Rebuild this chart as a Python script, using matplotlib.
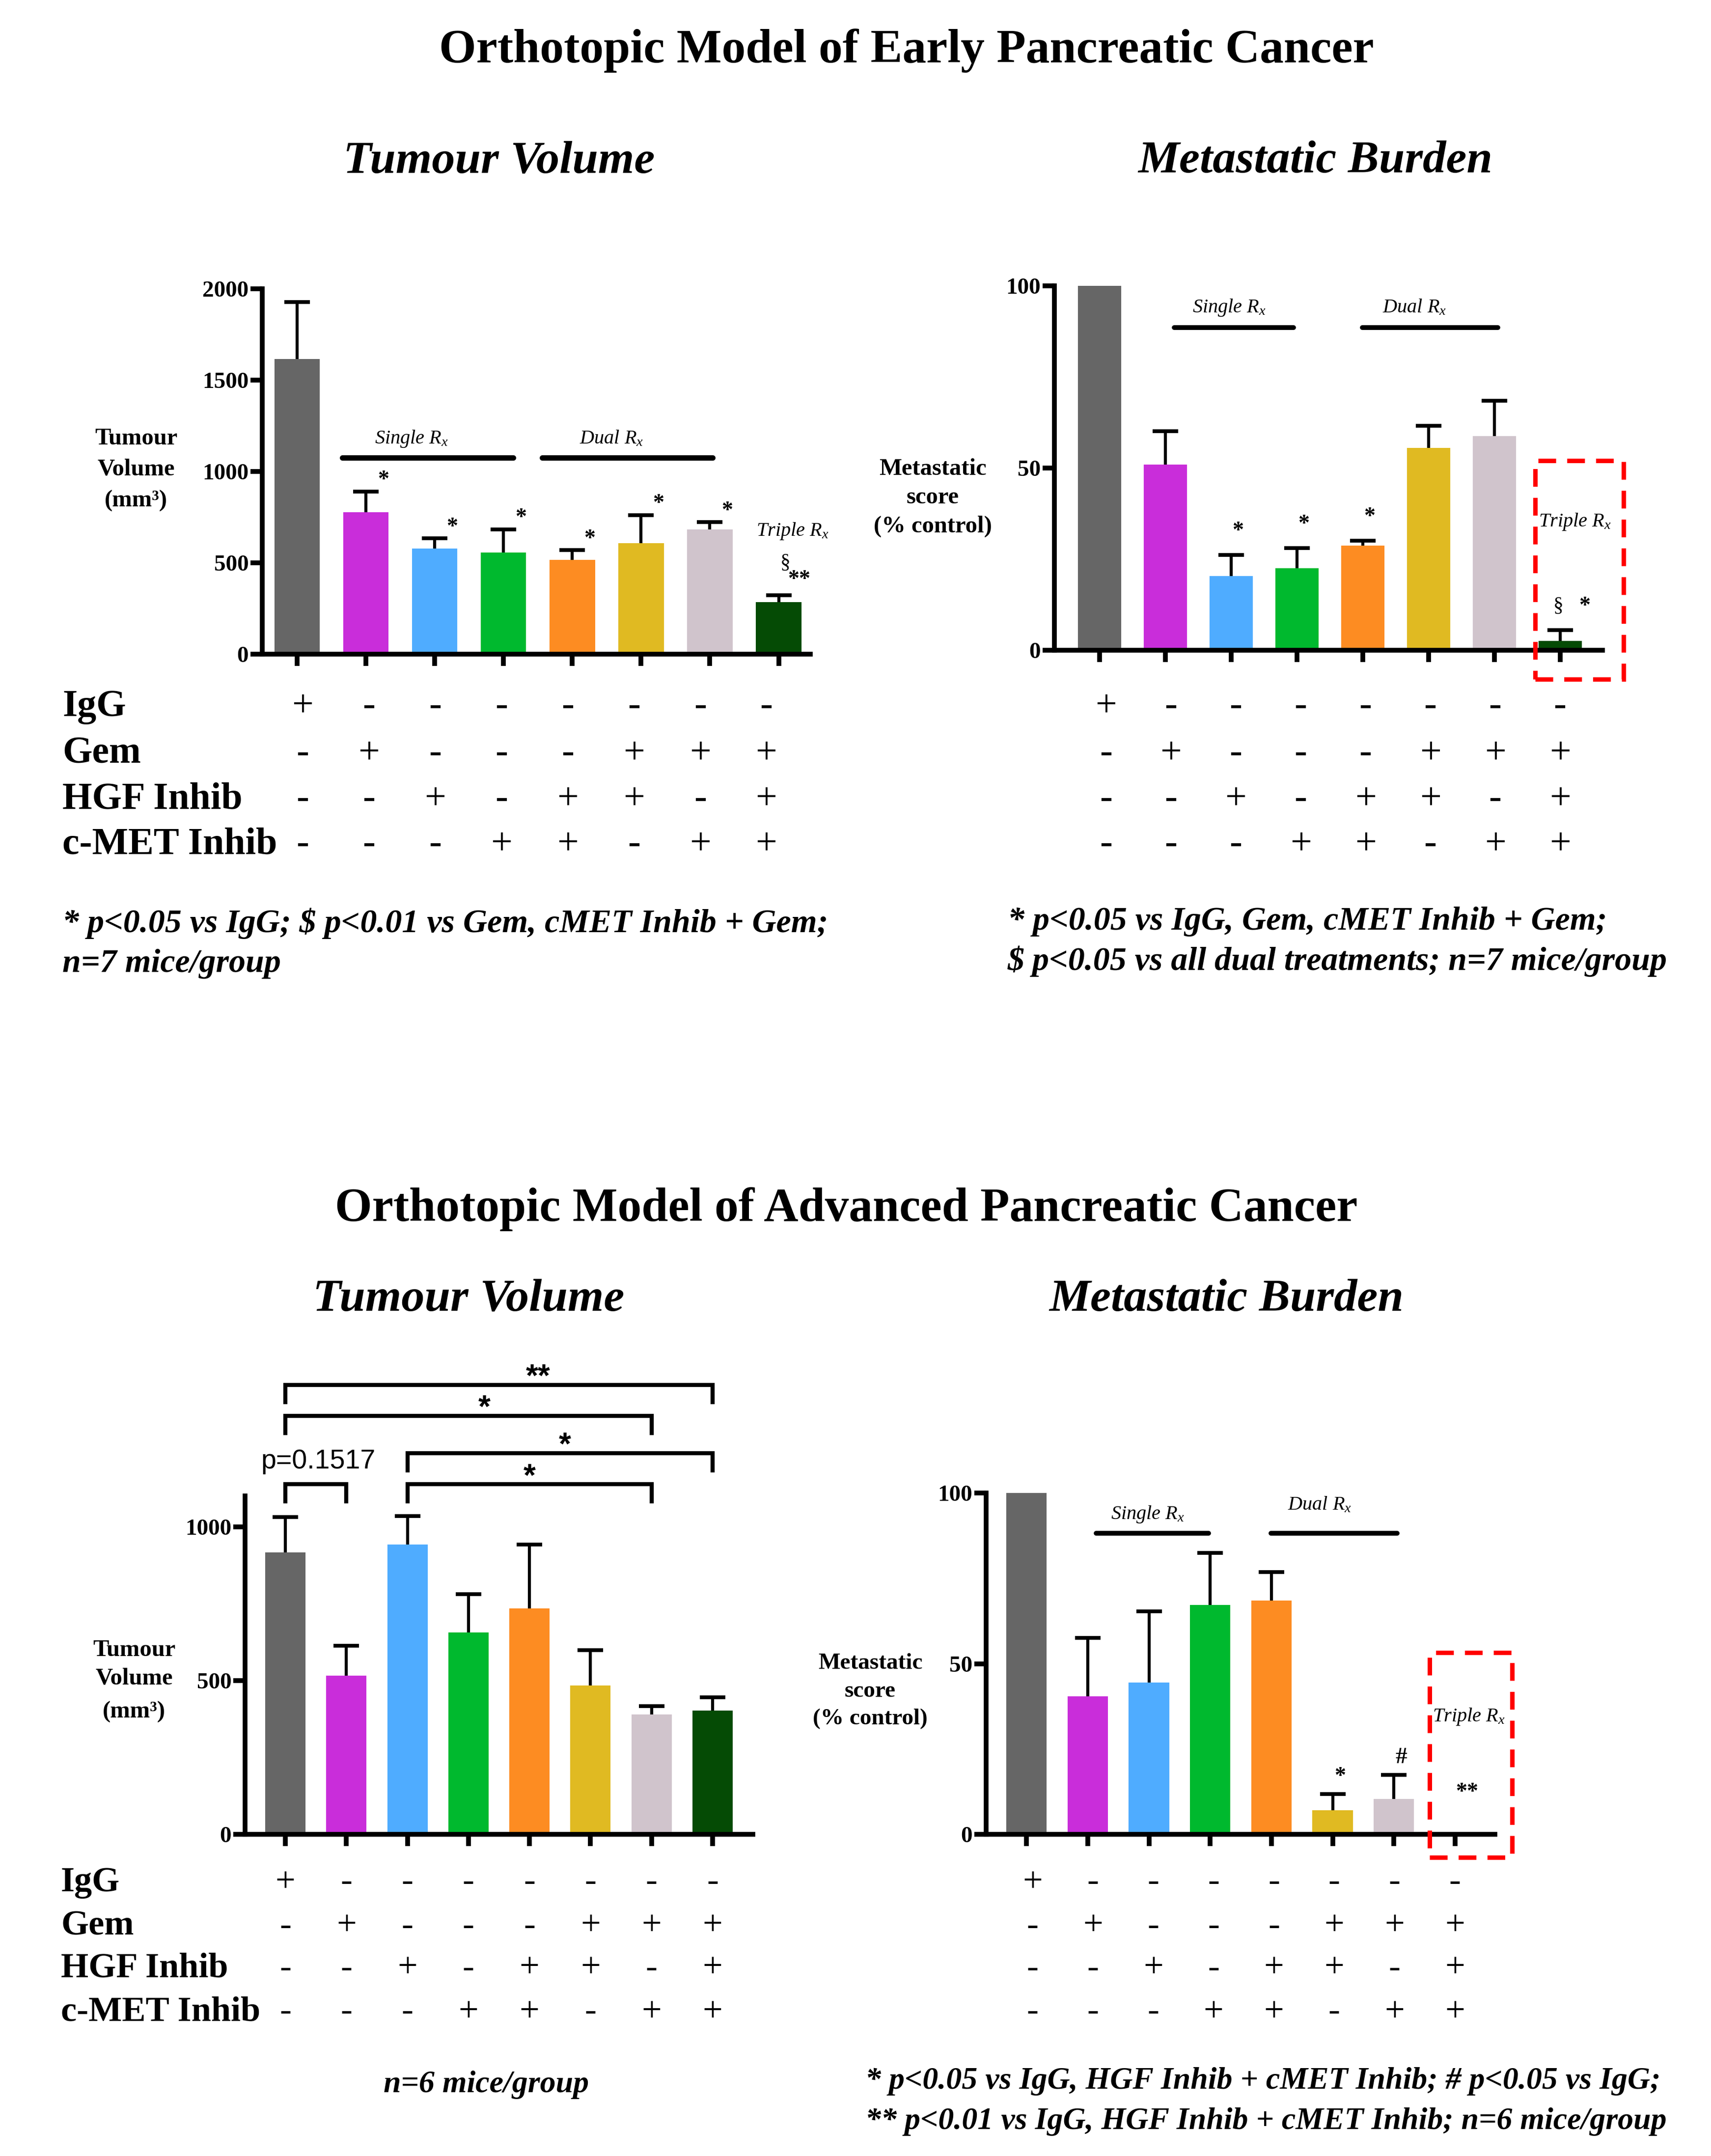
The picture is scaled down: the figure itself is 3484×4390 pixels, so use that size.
import matplotlib
matplotlib.use("Agg")
import matplotlib.pyplot as plt
from matplotlib import transforms
from matplotlib.patches import Rectangle
import numpy as np

plt.rcParams['font.family'] = ['Liberation Serif', 'DejaVu Serif']
plt.rcParams['mathtext.fontset'] = 'custom'
plt.rcParams['mathtext.rm'] = 'Liberation Serif'
plt.rcParams['mathtext.it'] = 'Liberation Serif:italic'
plt.rcParams['mathtext.bf'] = 'Liberation Serif:bold'

# ---- data ----
treatments = ['IgG', 'Gem', 'HGF Inhib', 'c-MET Inhib']
design = [
    ['+', '-', '-', '-', '-', '-', '-', '-'],
    ['-', '+', '-', '-', '-', '+', '+', '+'],
    ['-', '-', '+', '-', '+', '+', '-', '+'],
    ['-', '-', '-', '+', '+', '-', '+', '+'],
]
bar_colors = ['#666666', '#C92DDA', '#4FACFF', '#00B92E',
              '#FD8C22', '#E0BA22', '#D0C4CC', '#054B05']

early_volume = [1615, 777, 579, 557, 516, 608, 684, 284]
early_volume_sem = [312, 114, 55, 127, 53, 154, 38, 38]
early_volume_marks = ['', '*', '*', '*', '*', '*', '*', '']

early_meta = [100, 50.9, 20.4, 22.5, 28.7, 55.5, 58.7, 2.6]
early_meta_sem = [0, 9.2, 5.7, 5.5, 1.3, 6.1, 9.8, 2.9]
early_meta_marks = ['', '', '*', '*', '*', '', '', '']

adv_volume = [917, 515, 942, 656, 734, 483, 389, 402]
adv_volume_sem = [114, 98, 92, 125, 208, 115, 28, 43]
adv_volume_pairs = [(0, 1, 'p=0.1517'), (2, 6, '*'), (2, 7, '*'), (0, 6, '*'), (0, 7, '**')]

adv_meta = [100, 40.5, 44.4, 67.2, 68.5, 7.1, 10.4, 0]
adv_meta_sem = [0, 17.0, 20.9, 15.3, 8.4, 4.7, 7.0, 0]
adv_meta_marks = ['', '', '', '', '', '*', '#', '']

early_note_tv = ['* p<0.05 vs IgG; \\$ p<0.01 vs Gem, cMET Inhib + Gem;', 'n=7 mice/group']
early_note_mb = ['* p<0.05 vs IgG, Gem, cMET Inhib + Gem;',
                 '\\$ p<0.05 vs all dual treatments; n=7 mice/group']
adv_note_tv = ['n=6 mice/group']
adv_note_mb = ['* p<0.05 vs IgG, HGF Inhib + cMET Inhib; # p<0.05 vs IgG;',
               '** p<0.01 vs IgG, HGF Inhib + cMET Inhib; n=6 mice/group']

W, H = 3484, 4390
fig = plt.figure(figsize=(W / 100, H / 100), dpi=100)


def P(x, y):
    return x / W, 1 - y / H


def ftext(x, y, s, **kw):
    fx, fy = P(x, y)
    fig.text(fx, fy, s, **kw)


def panel(rect_px, means, sems, ymax, yticks, xlim):
    l, t, r, b = rect_px
    ax = fig.add_axes([l / W, 1 - b / H, (r - l) / W, (b - t) / H])
    x = np.arange(len(means))
    means = np.array(means, dtype=float)
    sems = np.array(sems, dtype=float)
    ax.bar(x, means, width=0.66, color=bar_colors, zorder=2)
    has = sems > 0
    tops = means + sems
    ax.vlines(x[has], means[has], tops[has], color='black', lw=4.5, zorder=3)
    ax.plot(x[has], tops[has], ls='none', marker='_', ms=38, mew=5.5,
            color='black', zorder=3, clip_on=False)
    ax.set_xlim(*xlim)
    ax.set_ylim(0, ymax)
    ax.set_yticks(yticks)
    ax.set_xticks(x)
    ax.set_xticklabels([])
    for s in ['top', 'right']:
        ax.spines[s].set_visible(False)
    for s in ['left', 'bottom']:
        ax.spines[s].set_linewidth(7)
    ax.tick_params(axis='both', direction='out', length=17, width=7,
                   labelsize=34, pad=3)
    for lab in ax.get_yticklabels():
        lab.set_fontweight('bold')
    return ax, tops


def table(ax, rows_y, size, label_x, off, step):
    trans = transforms.blended_transform_factory(ax.transData, fig.transFigure)
    for r, yy in enumerate(rows_y):
        if label_x is not None:
            ftext(label_x, yy, treatments[r], fontsize=size, fontweight='bold',
                  va='center', ha='left')
        for i, s in enumerate(design[r]):
            ax.text(off + i * step, 1 - yy / H, s, transform=trans,
                    ha='center', va='center', fontsize=size)


def span(ax, name, x0, x1, y_line, x_lab, y_lab, lw):
    ax.plot([x0, x1], [y_line, y_line], color='black', lw=lw,
            solid_capstyle='round', clip_on=False)
    ax.text(x_lab, y_lab, name + r' $R_x$', ha='center', va='center',
            fontsize=29, style='italic')


def red_box(ax, x0, y0, w, h):
    ax.add_patch(Rectangle((x0, y0), w, h, fill=False, ec='#FF0000', lw=6.5,
                           ls=(0, (4, 2.5)), clip_on=False, zorder=5))


# ---- titles ----
ftext(1846, 103, 'Orthotopic Model of Early Pancreatic Cancer', ha='center',
      va='center', fontsize=70, fontweight='bold')
ftext(1016, 329, 'Tumour Volume', ha='center', va='center', fontsize=68,
      fontweight='bold', style='italic')
ftext(2678, 329, 'Metastatic Burden', ha='center', va='center', fontsize=68,
      fontweight='bold', style='italic')
ftext(1723, 2462, 'Orthotopic Model of Advanced Pancreatic Cancer', ha='center',
      va='center', fontsize=70, fontweight='bold')
ftext(954, 2646, 'Tumour Volume', ha='center', va='center', fontsize=68,
      fontweight='bold', style='italic')
ftext(2497, 2646, 'Metastatic Burden', ha='center', va='center', fontsize=68,
      fontweight='bold', style='italic')

# ---- early: tumour volume ----
ax1, tops1 = panel((534, 588, 1650, 1332), early_volume, early_volume_sem,
                   2000, [0, 500, 1000, 1500, 2000], (-0.507, 7.46))
for i, m in enumerate(early_volume_marks):
    if m:
        ax1.text(i + 0.25, tops1[i] + 60, m, ha='center', va='center',
                 fontsize=33, fontweight='bold')
span(ax1, 'Single', 0.66, 3.14, 1074, 1.66, 1180, 8)
span(ax1, 'Dual', 3.56, 6.04, 1074, 4.57, 1180, 8)
ax1.text(7.2, 674, r'Triple $R_x$', ha='center', va='center', fontsize=29,
         style='italic')
ax1.text(7.1, 498, '§', ha='center', va='center', fontsize=30)
ax1.text(7.3, 405, '**', ha='center', va='center', fontsize=33,
         fontweight='bold')
for k, line in enumerate(['Tumour', 'Volume', '(mm³)']):
    ftext(277, [893, 955, 1020][k], line, ha='center', va='center',
          fontsize=35, fontweight='bold')
table(ax1, [1439, 1535, 1628, 1720], 56, 127, 0.08, 0.963)
for k, line in enumerate(early_note_tv):
    ftext(127, [1880, 1962][k], line, ha='left', va='center', fontsize=49,
          fontweight='bold', style='italic')

# ---- early: metastatic burden ----
ax2, tops2 = panel((2147, 582, 3263, 1324), early_meta, early_meta_sem,
                   100, [0, 50, 100], (-0.687, 7.64))
for i, m in enumerate(early_meta_marks):
    if m:
        ax2.text(i + 0.1, tops2[i] + 6.5, m, ha='center', va='center',
                 fontsize=33, fontweight='bold')
span(ax2, 'Single', 1.13, 2.95, 88.5, 1.97, 94, 7)
span(ax2, 'Dual', 3.99, 6.05, 88.5, 4.78, 94, 7)
ax2.text(7.22, 35.2, r'Triple $R_x$', ha='center', va='center', fontsize=29,
         style='italic')
ax2.text(6.97, 12, '§', ha='center', va='center', fontsize=30)
ax2.text(7.37, 12, '*', ha='center', va='center', fontsize=33,
         fontweight='bold')
red_box(ax2, 6.62, -8, 1.34, 60)
for k, line in enumerate(['Metastatic', 'score', '(% control)']):
    ftext(1899, [955, 1013, 1072][k], line, ha='center', va='center',
          fontsize=35, fontweight='bold')
table(ax2, [1439, 1535, 1628, 1720], 56, None, 0.1, 0.985)
for k, line in enumerate(early_note_mb):
    ftext(2052, [1877, 1957][k], line, ha='left', va='center', fontsize=49,
          fontweight='bold', style='italic')

# ---- advanced: tumour volume ----
ax3, tops3 = panel((499, 3046, 1533, 3735), adv_volume, adv_volume_sem,
                   1100, [0, 500, 1000], (-0.66, 7.66))
levels = [1138, 1138, 1239, 1360, 1461]
lab_dx = [0.04, 0.0, 0.08, 0.26, 0.64]
for (i, j, lab), lev, dx in zip(adv_volume_pairs, levels, lab_dx):
    ax3.plot([i, i, j, j], [lev - 56, lev, lev, lev - 56], color='black',
             lw=6, clip_on=False, solid_joinstyle='miter')
    if lab.startswith('p'):
        ax3.text((i + j) / 2 + dx, lev + 51, lab, ha='center', va='baseline',
                 fontsize=40, family=['Liberation Sans', 'DejaVu Sans'])
    else:
        ax3.text((i + j) / 2 + dx, lev - 5, lab, ha='center', va='baseline',
                 fontsize=46, fontweight='bold',
                 family=['Liberation Sans', 'DejaVu Sans'])
for k, line in enumerate(['Tumour', 'Volume', '(mm³)']):
    ftext(273, [3360, 3418, 3486][k], line, ha='center', va='center',
          fontsize=35, fontweight='bold')
table(ax3, [3833, 3922, 4008, 4097], 52, 124, 0.0, 1.0)
ftext(990, 4245, adv_note_tv[0], ha='center', va='center', fontsize=46,
      fontweight='bold', style='italic')

# ---- advanced: metastatic burden ----
ax4, tops4 = panel((2008, 3040, 3044, 3735), adv_meta, adv_meta_sem,
                   100, [0, 50, 100], (-0.66, 7.65))
for i, m in enumerate(adv_meta_marks):
    if m:
        ax4.text(i + 0.12, tops4[i] + 5, m, ha='center', va='center',
                 fontsize=33 if m == '*' else 34, fontweight='bold')
span(ax4, 'Single', 1.14, 2.97, 88.2, 1.98, 93.7, 7)
span(ax4, 'Dual', 3.99, 6.05, 88.2, 4.79, 96.5, 7)
ax4.text(7.22, 34.5, r'Triple $R_x$', ha='center', va='center', fontsize=29,
         style='italic')
ax4.text(7.19, 12.2, '**', ha='center', va='center', fontsize=33,
         fontweight='bold')
red_box(ax4, 6.58, -6.7, 1.35, 59.9)
for k, line in enumerate(['Metastatic', 'score', '(% control)']):
    ftext(1772, [3387, 3444, 3500][k], line, ha='center', va='center',
          fontsize=34, fontweight='bold')
table(ax4, [3833, 3922, 4008, 4097], 52, None, 0.1, 0.985)
for k, line in enumerate(adv_note_mb):
    ftext(1762, [4238, 4320][k], line, ha='left', va='center', fontsize=46,
          fontweight='bold', style='italic')

fig.savefig('out.png', dpi=100)
